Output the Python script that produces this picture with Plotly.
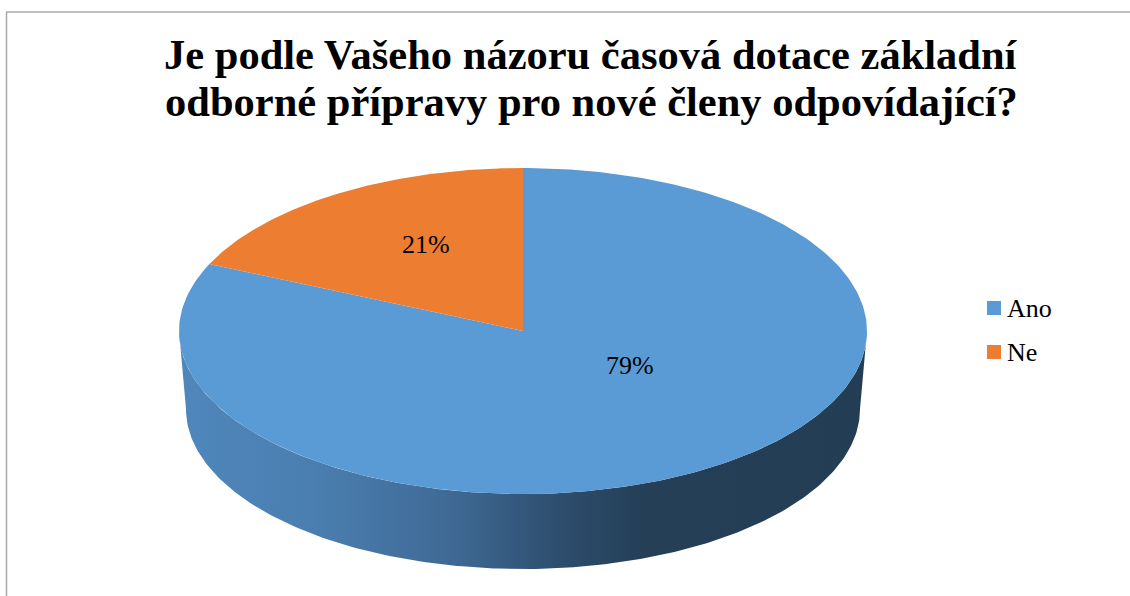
import numpy as np
import plotly.graph_objects as go

# ---- data ----
categories = ["Ano", "Ne"]
values = [79, 21]
title_lines = ["Je podle Vašeho názoru časová dotace základní",
               "odborné přípravy pro nové členy odpovídající?"]

# ---- style ----
colors = ["#5b9bd5", "#ed7d31"]
W, H = 1130, 596
CX, CY, RX, RY = 523, 331, 344, 163          # top face ellipse
DEPTH, RXB, RYB = 78, 337, 160               # bottom ellipse
PROJ_BLEND = 0.3                              # mix of parametric / geometric angle
LABEL_DT = [23, -5]                           # label angle nudges (deg)
LABEL_R = [0.375, 0.6]                        # label radial fraction
FONT = "Liberation Serif"


def proj_angle(phi_deg):
    """map a pie angle onto the tilted ellipse (parametric angle)"""
    p = np.radians(phi_deg)
    t = np.degrees(np.arctan2(RX * np.sin(p), RY * np.cos(p)))
    d = (t - phi_deg + 180) % 360 - 180
    geo = phi_deg + d
    return geo + PROJ_BLEND * (phi_deg - geo)


def ell(t_deg, cx, cy, rx, ry):
    t = np.radians(t_deg)
    return cx + rx * np.cos(t), cy - ry * np.sin(t)


fig = go.Figure()

# side wall (front half)
t_front = np.linspace(180, 360, 200)
xt, yt = ell(t_front, CX, CY, RX, RY)
xb, yb = ell(t_front[::-1], CX, CY + DEPTH, RXB, RYB)
fig.add_trace(go.Scatter(
    x=np.concatenate([xt, xb, xt[:1]]), y=np.concatenate([yt, yb, yt[:1]]),
    mode="lines", line=dict(width=0), fill="toself",
    fillgradient=dict(type="horizontal",
                      colorscale=[[0, "#4f87bc"], [0.2, "#4a7eb0"], [0.4, "#3f6994"],
                                  [0.55, "#2e4e6e"], [0.68, "#243f56"], [1, "#233d54"]]),
    hoverinfo="skip", showlegend=False))

# top slices (clockwise from 12 o'clock)
total = float(sum(values))
cum = 90.0
for i, (cat, v) in enumerate(zip(categories, values)):
    phi0, phi1 = cum, cum - v / total * 360.0
    cum = phi1
    t0, t1 = proj_angle(phi0), proj_angle(phi1)
    ts = np.linspace(t0, t1, 300)
    xs, ys = ell(ts, CX, CY, RX, RY)
    fig.add_trace(go.Scatter(
        x=np.concatenate([[CX], xs, [CX]]), y=np.concatenate([[CY], ys, [CY]]),
        mode="lines", line=dict(width=0), fill="toself", fillcolor=colors[i],
        hoverinfo="skip", showlegend=False))
    tm = (t0 + t1) / 2 + LABEL_DT[i]
    lx, ly = ell(tm, CX, CY, RX * LABEL_R[i], RY * LABEL_R[i])
    fig.add_annotation(x=lx, y=ly, text=f"{round(v / total * 100)}%", showarrow=False,
                       font=dict(size=26), xanchor="center", yanchor="middle")

# legend
for i, cat in enumerate(categories):
    ly = 308 + 44 * i
    fig.add_trace(go.Scatter(x=[994], y=[ly], mode="markers",
                             marker=dict(symbol="square", size=14, color=colors[i]),
                             hoverinfo="skip", showlegend=False))
    fig.add_annotation(x=1005, y=ly, text=cat, showarrow=False, xanchor="left",
                       yanchor="middle", font=dict(size=26))

# title
for j, line in enumerate(title_lines):
    fig.add_annotation(x=591, y=54 + 47 * j, text=f"<b>{line}</b>", showarrow=False,
                       xanchor="center", yanchor="middle", font=dict(size=42.5))

# border
fig.add_shape(type="rect", x0=6.5, y0=12, x1=W + 10, y1=H + 10,
              line=dict(color="#a9a9a9", width=1.5), layer="above")

fig.update_layout(width=W, height=H, margin=dict(l=0, r=0, t=0, b=0),
                  font=dict(family=FONT, color="black"),
                  paper_bgcolor="white", plot_bgcolor="white",
                  xaxis=dict(range=[0, W], visible=False, fixedrange=True),
                  yaxis=dict(range=[H, 0], visible=False, fixedrange=True))

fig.write_html("out.html", config={"displayModeBar": False},
               post_script="document.body.style.margin='0';document.body.style.overflow='hidden';")
